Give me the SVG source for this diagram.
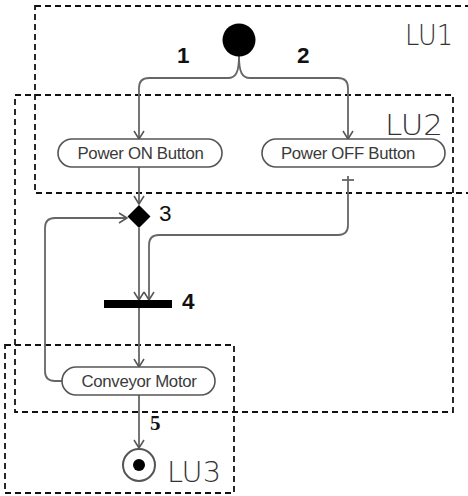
<svg xmlns="http://www.w3.org/2000/svg" width="468" height="496" viewBox="0 0 468 496">
<style>
.zone{fill:none;stroke:#111;stroke-width:1.8;stroke-dasharray:6,4}
.lu{font-family:"DejaVu Sans","Liberation Sans",sans-serif;font-weight:200;font-size:28px;fill:#333}
.act{fill:#fff;stroke:#555;stroke-width:1.6}
.atxt{font-family:"Liberation Sans",Arial,sans-serif;font-size:16.8px;fill:#3a3a3a;text-anchor:middle;letter-spacing:-0.3px}
.num{font-family:"Liberation Sans",Arial,sans-serif;font-weight:bold;font-size:22.5px;fill:#111}
.edge{fill:none;stroke:#666;stroke-width:1.8}
</style>
<defs>
<marker id="arr" markerWidth="12" markerHeight="12" refX="9" refY="6" orient="auto" markerUnits="userSpaceOnUse">
<path d="M1,1 L9,6 L1,11" fill="none" stroke="#555" stroke-width="1.5"/>
</marker>
</defs>
<rect width="468" height="496" fill="#fff"/>
<g id="zones">
<rect class="zone" x="35" y="6" width="460" height="187"/>
<rect class="zone" x="15" y="95" width="438" height="317"/>
<rect class="zone" x="5" y="345" width="229" height="148"/>
<text class="lu" x="405" y="45" textLength="48" lengthAdjust="spacingAndGlyphs">LU1</text>
<text class="lu" x="385" y="135" textLength="58" lengthAdjust="spacingAndGlyphs">LU2</text>
<text class="lu" x="167" y="482" textLength="54" lengthAdjust="spacingAndGlyphs">LU3</text>
</g>
<g id="connectors">
<path class="edge" d="M239,56 C239,72 236,78 228,78 L149,78 Q139,78 139,88 L139,139" marker-end="url(#arr)"/>
<path class="edge" d="M239,56 C239,72 242,78 250,78 L338,78 Q348,78 348,88 L348,139" marker-end="url(#arr)"/>
<path class="edge" d="M139,167 L139,204" marker-end="url(#arr)"/>
<path class="edge" d="M348,176 L348,225 Q348,235 338,235 L159,235 Q149,235 149,245 L149,300" marker-end="url(#arr)"/>
<path class="edge" d="M342,180 L354,180"/>
<path class="edge" d="M139,228 L139,300" marker-end="url(#arr)"/>
<path class="edge" d="M139,308 L139,367" marker-end="url(#arr)"/>
<path class="edge" d="M62,381 L55,381 Q45,381 45,371 L45,228 Q45,218 55,218 L127,218" marker-end="url(#arr)"/>
<path class="edge" d="M139,395 L139,448" marker-end="url(#arr)"/>
</g>
<g id="start"><circle cx="239" cy="40" r="16.5" fill="#000"/></g>
<g id="powerOn">
<rect class="act" x="58" y="139" width="164" height="28" rx="14"/>
<text class="atxt" x="140.5" y="159">Power ON Button</text>
</g>
<g id="powerOff">
<rect class="act" x="262" y="139" width="183" height="28" rx="14"/>
<text class="atxt" x="348" y="159">Power OFF Button</text>
</g>
<g id="decision"><path d="M139,205 L150.5,216.5 L139,228 L127.5,216.5 Z" fill="#000"/></g>
<g id="join"><rect x="104" y="300" width="68" height="8" fill="#000"/></g>
<g id="conveyor">
<rect class="act" x="62" y="367" width="153" height="28" rx="14"/>
<text class="atxt" x="139" y="387">Conveyor Motor</text>
</g>
<g id="end">
<circle cx="139" cy="465" r="16" fill="#fff" stroke="#555" stroke-width="2"/>
<circle cx="139" cy="465" r="6" fill="#000"/>
</g>
<g id="labels">
<text class="num" x="177" y="63">1</text>
<text class="num" x="297" y="63">2</text>
<text class="num" x="159" y="221" style="font-weight:normal">3</text>
<text class="num" x="182" y="309">4</text>
<text x="150" y="430" style="font-family:'Liberation Serif',serif;font-weight:bold;font-size:21px;fill:#111">5</text>
</g>
</svg>
